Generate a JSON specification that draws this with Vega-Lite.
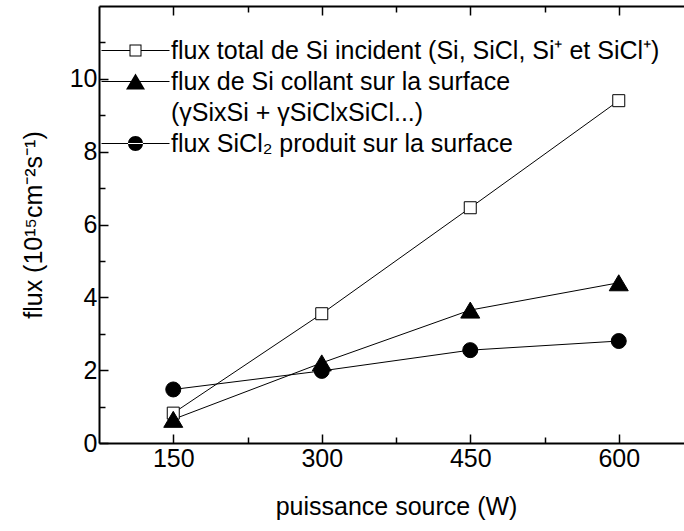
{
  "$schema": "https://vega.github.io/schema/vega-lite/v6.json",
  "width": 594,
  "height": 437,
  "autosize": {"type": "none"},
  "padding": {"left": 99, "top": 6, "right": -9, "bottom": 88},
  "background": "white",
  "config": {
    "font": "Liberation Sans",
    "view": {"stroke": null},
    "axis": {
      "domainColor": "black", "domainWidth": 2, "tickColor": "black", "tickWidth": 1.5,
      "labelColor": "black", "titleColor": "black", "labelFont": "Liberation Sans", "titleFont": "Liberation Sans",
      "labelFontSize": 25, "titleFontSize": 25, "titleFontWeight": "normal", "grid": false
    }
  },
  "data": {
    "values": [
      {"power": 150, "flux": 0.82, "series": "total"},
      {"power": 300, "flux": 3.55, "series": "total"},
      {"power": 450, "flux": 6.46, "series": "total"},
      {"power": 600, "flux": 9.4, "series": "total"},
      {"power": 150, "flux": 0.65, "series": "collant"},
      {"power": 300, "flux": 2.2, "series": "collant"},
      {"power": 450, "flux": 3.65, "series": "collant"},
      {"power": 600, "flux": 4.4, "series": "collant"},
      {"power": 150, "flux": 1.47, "series": "sicl2"},
      {"power": 300, "flux": 1.98, "series": "sicl2"},
      {"power": 450, "flux": 2.55, "series": "sicl2"},
      {"power": 600, "flux": 2.8, "series": "sicl2"}
    ]
  },
  "resolve": {"axis": {"x": "independent", "y": "independent"}},
  "layer": [
    {
      "mark": {"type": "line", "color": "black", "strokeWidth": 1},
      "encoding": {
        "x": {"field": "power", "type": "quantitative", "scale": {"domain": [75, 675], "nice": false, "zero": false},
          "axis": {"orient": "bottom", "values": [150, 225, 300, 375, 450, 525, 600, 675],
            "labelExpr": "datum.value % 150 === 0 ? datum.label : ''",
            "tickSize": {"condition": {"test": "datum.value % 150 === 0", "value": -9}, "value": -6},
            "labelPadding": 12, "title": "puissance source (W)", "titlePadding": 23, "domainWidth": 2}},
        "y": {"field": "flux", "type": "quantitative", "scale": {"domain": [0, 12], "nice": false},
          "axis": {"orient": "left", "values": [0, 1, 2, 3, 4, 5, 6, 7, 8, 9, 10, 11],
            "labelExpr": "datum.value % 2 === 0 ? datum.label : ''",
            "tickSize": {"condition": {"test": "datum.value % 2 === 0", "value": -9}, "value": -6},
            "labelPadding": 11, "title": "flux (10¹⁵cm⁻²s⁻¹)", "titlePadding": 23}},
        "detail": {"field": "series"}
      }
    },
    {
      "mark": {"type": "point", "filled": true, "stroke": "black", "strokeWidth": 1, "opacity": 1},
      "encoding": {
        "x": {"field": "power", "type": "quantitative", "scale": {"domain": [75, 675], "nice": false, "zero": false},
          "axis": {"orient": "top", "values": [150, 225, 300, 375, 450, 525, 600, 675], "labels": false,
            "tickSize": {"condition": {"test": "datum.value % 150 === 0", "value": -9}, "value": -6}, "title": null}},
        "y": {"field": "flux", "type": "quantitative", "scale": {"domain": [0, 12], "nice": false},
          "axis": {"orient": "right", "values": [0, 1, 2, 3, 4, 5, 6, 7, 8, 9, 10, 11], "labels": false,
            "tickSize": {"condition": {"test": "datum.value % 2 === 0", "value": -9}, "value": -6}, "title": null}},
        "shape": {"condition": [{"test": "datum.series === 'total'", "value": "square"}, {"test": "datum.series === 'collant'", "value": "M0,-0.8L0.95,0.8L-0.95,0.8Z"}], "value": "circle"},
        "size": {"condition": [{"test": "datum.series === 'total'", "value": 144}, {"test": "datum.series === 'collant'", "value": 400}], "value": 225},
        "fill": {"condition": {"test": "datum.series === 'total'", "value": "white"}, "value": "black"}
      }
    },
    {
      "transform": [{"filter": "false"}],
      "mark": {"type": "point", "filled": true, "color": "black", "strokeWidth": 0, "opacity": 1},
      "encoding": {
        "shape": {"field": "series", "type": "nominal",
          "scale": {"domain": ["total", "collant", "gamma", "sicl2"],
            "range": [
              "M-3.4,-0.05H-0.6V0.05H-3.4ZM0.6,-0.05H3.4V0.05H0.6ZM-0.6,-0.6H0.6V0.6H-0.6ZM-0.5,-0.5V0.5H0.5V-0.5Z",
              "M-3.4,-0.05H3.4V0.05H-3.4ZM0,-0.8L0.95,0.8L-0.95,0.8Z",
              "M0,0Z",
              "M-3.4,-0.05H3.4V0.05H-3.4ZM-0.75,0A0.75,0.75 0 1,0 0.75,0A0.75,0.75 0 1,0 -0.75,0Z"
            ]},
          "legend": {
            "orient": "none", "legendX": 24, "legendY": 32, "title": null,
            "labelFont": "Liberation Sans", "labelFontSize": 25, "labelColor": "black", "labelLimit": 700,
            "labelOffset": 23, "symbolSize": 400, "symbolStrokeWidth": 0, "rowPadding": 5,
            "labelExpr": "datum.value === 'total' ? 'flux total de Si incident (Si, SiCl, Si⁺ et SiCl⁺)' : datum.value === 'collant' ? 'flux de Si collant sur la surface' : datum.value === 'gamma' ? ' (γSixSi + γSiClxSiCl...)' : 'flux SiCl₂ produit sur la surface'"
          }}
      }
    }
  ]
}
